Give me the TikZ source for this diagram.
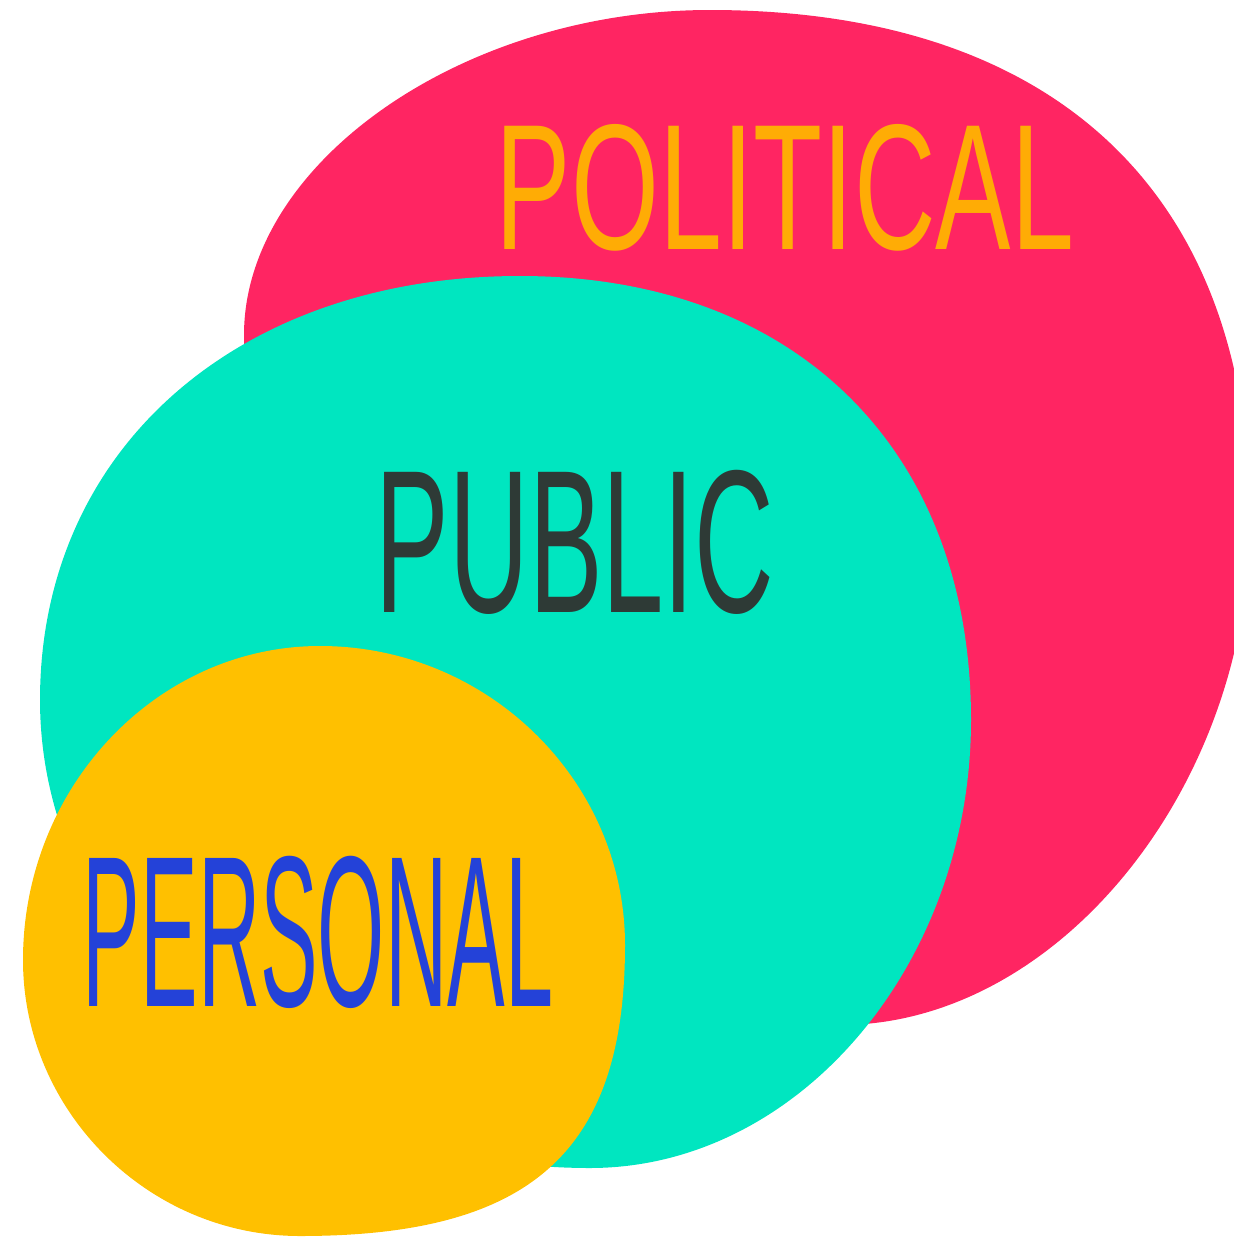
\documentclass[tikz,border=0pt]{standalone}
\usepackage{fontspec}
\setmainfont{Liberation Sans}
\definecolor{polred}{HTML}{FF2562}
\definecolor{pubteal}{HTML}{00E6C0}
\definecolor{peryel}{HTML}{FFC000}
\definecolor{poltext}{HTML}{FFAC05}
\definecolor{pubtext}{HTML}{2E3A36}
\definecolor{pertext}{HTML}{2442D8}
\begin{document}
\begin{tikzpicture}[x=1pt,y=-1pt,
  label/.style={inner sep=0pt, anchor=center}]
\useasboundingbox (0,0) rectangle (1234,1240);
\begin{scope}
\clip (0,0) rectangle (1234,1240);
% red (political) disc
\fill[polred] (244,335) .. controls (244,163) and (463,10) .. (710,10)
  .. controls (1056,10) and (1250,194) .. (1250,520)
  .. controls (1250,788) and (1057,1025) .. (840,1025)
  .. controls (512,1025) and (244,715) .. cycle;
% teal (public) disc
\fill[pubteal] (40,700) .. controls (40,450) and (237,276) .. (520,276)
  .. controls (795,276) and (971,449) .. (971,720)
  .. controls (971,965) and (798,1168) .. (590,1168)
  .. controls (288,1168) and (40,957) .. cycle;
% yellow (personal) disc
\fill[peryel] (23,960) .. controls (23,787) and (157,646) .. (320,646)
  .. controls (488,646) and (625,781) .. (625,945)
  .. controls (625,1152) and (531,1236) .. (300,1236)
  .. controls (148,1236) and (23,1111) .. cycle;
\end{scope}
\node[label, text=poltext] (political) at (785,188) {\resizebox{578pt}{125pt}{POLITICAL}};
\node[label, text=pubtext] (public) at (575,542) {\resizebox{398pt}{142pt}{PUBLIC}};
\node[label, text=pertext] (personal) at (318,932) {\resizebox{470pt}{150pt}{PERSONAL}};
\end{tikzpicture}
\end{document}
